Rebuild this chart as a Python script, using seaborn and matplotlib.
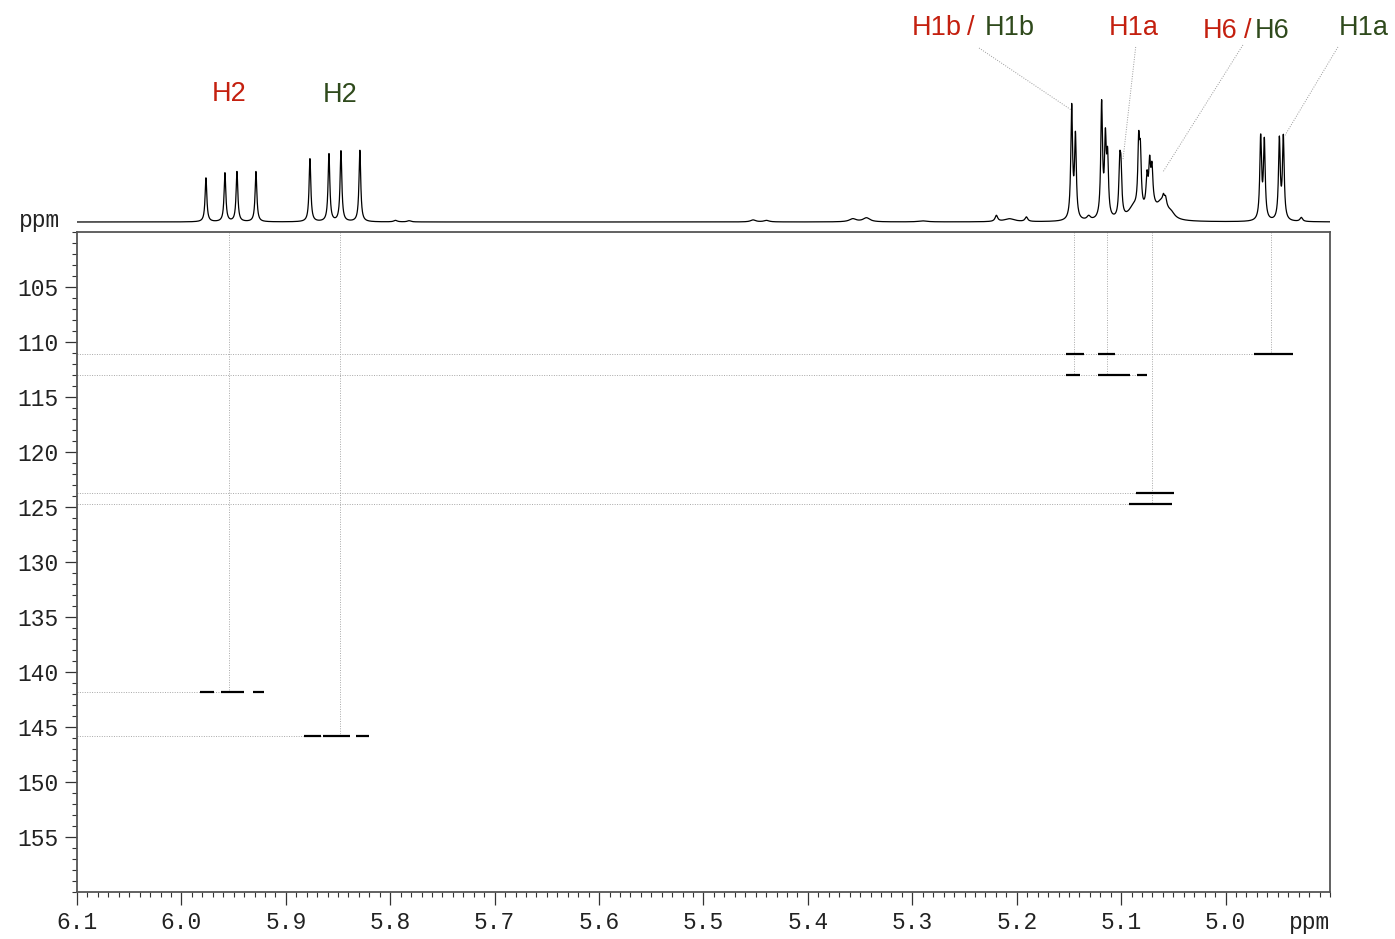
import numpy as np
import pandas as pd
import matplotlib
matplotlib.use("Agg")
import matplotlib.pyplot as plt
import seaborn as sns

# ---- 1H projection: peak list (shift / ppm, intensity / a.u., half width / ppm)
peak_shift = [5.9765, 5.9583, 5.9468, 5.9286,
              5.8769, 5.8587, 5.8472, 5.8291,
              5.795, 5.782,
              5.4525, 5.4397, 5.357, 5.3439, 5.29, 5.2195, 5.207, 5.1908,
              5.1474, 5.1438, 5.1311, 5.1187, 5.1151, 5.1130, 5.1014, 5.1002,
              5.088, 5.0832, 5.0816, 5.0753, 5.0727, 5.0705, 5.072, 5.062,
              5.058, 5.0595, 5.0575, 5.052,
              4.9664, 4.9629, 4.9485, 4.9447, 4.9275]
peak_height = [44, 49, 50, 50.5,
               63, 68, 70.5, 71.5,
               1.5, 1.2,
               2, 1.5, 3, 4, 1, 6, 3, 4.5,
               112, 82, 4, 114, 74, 56, 48, 42,
               12, 64, 52, 28, 36, 32, 16, 12,
               8, 6, 6, 5,
               82, 78, 80, 82, 4]
peak_hwhm = [0.001, 0.001, 0.001, 0.001,
             0.001, 0.001, 0.001, 0.001,
             0.002, 0.002,
             0.003, 0.003, 0.004, 0.004, 0.005, 0.0015, 0.006, 0.0015,
             0.001, 0.001, 0.002, 0.001, 0.001, 0.001, 0.001, 0.001,
             0.006, 0.001, 0.001, 0.001, 0.001, 0.001, 0.005, 0.005,
             0.004, 0.001, 0.001, 0.004,
             0.001, 0.001, 0.001, 0.001, 0.0015]

# ---- HSQC cross peaks: rows of 1H segments at a 13C shift
xpk_c = [141.86, 141.86, 141.86,
         145.86, 145.86, 145.86,
         111.05, 111.05, 111.05,
         113.02, 113.02, 113.02,
         123.75, 124.77]
xpk_h_start = [5.9822, 5.9624, 5.9318,
               5.8827, 5.8642, 5.8332,
               5.1531, 5.1218, 4.9729,
               5.1531, 5.1222, 5.0849,
               5.0854, 5.0925]
xpk_h_end = [5.9688, 5.9401, 5.9207,
             5.8664, 5.8386, 5.8202,
             5.1352, 5.1062, 4.9355,
             5.1397, 5.0919, 5.0753,
             5.0497, 5.0514]

# ---- assignment guides (1H shift, 13C shift)
guide_h = [5.9545, 5.8482, 5.1452, 5.1136, 5.0701, 4.9562]
guide_c_end = [141.86, 145.86, 113.02, 113.02, 124.77, 111.05]
hguide_c = [111.05, 113.02, 123.75, 124.77, 141.86, 145.86]
hguide_h_end = [4.9562, 5.0790, 5.0701, 5.0701, 5.9545, 5.8482]

# ---- labels on the projection
RED = "#c4200f"
GREEN = "#2f4a1c"
label_text = ["H2", "H2", "H1b", "/", "H1b", "H1a", "H6", "/", "H6", "H1a"]
label_color = [RED, GREEN, RED, RED, GREEN, RED, RED, RED, GREEN, GREEN]
label_h = [5.9545, 5.8482, 5.3006, 5.2479, 5.2310, 5.1120, 5.0220, 4.9827, 4.9722, 4.8918]
label_v = [128, 127, 194, 194, 194, 194, 191, 191, 191, 194]
label_ha = ["center", "center", "left", "left", "left", "left", "left", "left", "left", "left"]

# leader lines: (h0, v0) -> (h1, v1)
leader_h0 = [5.2361, 5.0861, 4.9834, 4.8924]
leader_v0 = [174, 175, 177, 175]
leader_h1 = [5.1477, 5.0983, 5.0600, 4.9435]
leader_v1 = [112, 62, 50, 86]

# ---- build the projection trace
ppm = np.linspace(6.1, 4.9, 8000)
intensity = np.zeros_like(ppm)
for x0, h, w in zip(peak_shift, peak_height, peak_hwhm):
    intensity += h * w ** 2 / ((ppm - x0) ** 2 + w ** 2)
spec = pd.DataFrame({"ppm": ppm, "intensity": intensity})

sns.set_theme(style="white")
plt.rcParams["font.family"] = ["Liberation Sans", "DejaVu Sans"]

W, H = 1395, 939
fig = plt.figure(figsize=(W / 100, H / 100), dpi=100)
L, R = 77 / W, 1330 / W
ax = fig.add_axes([L, 47 / H, R - L, 660 / H])
axt = fig.add_axes([L, 707 / H, R - L, 232 / H], sharex=ax)

# projection
sns.lineplot(data=spec, x="ppm", y="intensity", ax=axt, color="black",
             lw=0.9, sort=False, estimator=None, errorbar=None)
axt.set_ylim(-10, 222)
axt.axis("off")
for t, c, h, v, ha in zip(label_text, label_color, label_h, label_v, label_ha):
    axt.text(h, v, t, color=c, fontsize=19.5, ha=ha, va="center", clip_on=False)
for h0, v0, h1, v1 in zip(leader_h0, leader_v0, leader_h1, leader_v1):
    axt.plot([h0, h1], [v0, v1], color="#9a9a9a", lw=0.7, ls=(0, (1, 1.5)),
             clip_on=False)

# 2D map
ax.set_xlim(6.1, 4.9)
ax.set_ylim(160, 100)
for h, c in zip(guide_h, guide_c_end):
    ax.vlines(h, 100, c, color="#a8a8a8", lw=0.7, ls=(0, (1, 1.5)))
for c, h in zip(hguide_c, hguide_h_end):
    ax.hlines(c, 6.1, h, color="#a8a8a8", lw=0.7, ls=(0, (1, 1.5)))
ax.hlines(xpk_c, xpk_h_start, xpk_h_end, color="black", lw=1.6)

mono = "Liberation Mono"
ax.set_xticks(np.arange(6.1, 4.95, -0.1))
ax.set_xticklabels([f"{v:.1f}" for v in np.arange(6.1, 4.95, -0.1)],
                   family=mono, fontsize=16.5)
ax.set_xticks(np.arange(6.1, 4.899, -0.01), minor=True)
ax.set_yticks(np.arange(105, 156, 5))
ax.set_yticklabels([str(v) for v in range(105, 156, 5)], family=mono, fontsize=16.5)
ax.set_yticks(np.arange(100, 160.5, 1), minor=True)
ax.tick_params(which="major", direction="out", length=9, width=0.9,
               color="#333333", bottom=True, left=True, pad=4, labelcolor="#222222")
ax.tick_params(which="minor", direction="out", length=3.5, width=0.8,
               color="#333333", bottom=True, left=True)
ax.tick_params(axis="x", which="major", pad=5)
for s in ax.spines.values():
    s.set_color("#555555")
    s.set_linewidth(1.3)
ax.set_xlabel("")
ax.set_ylabel("")
ax.grid(False)

fig.text(60 / W, 1 - 220 / H, "ppm", family=mono, fontsize=16.5, ha="right",
         va="center", color="#222222")
fig.text(1330 / W, 1 - 922 / H, "ppm", family=mono, fontsize=16.5, ha="right",
         va="center", color="#222222")

fig.savefig("out.png", dpi=100)
